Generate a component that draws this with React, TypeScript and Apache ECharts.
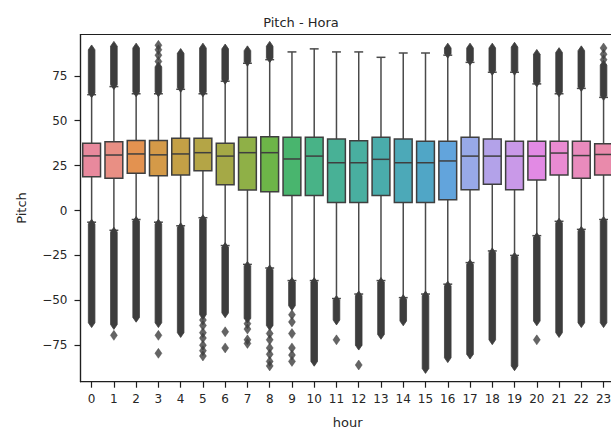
import React, { useEffect, useRef } from "react";
import * as echarts from "echarts";

const HOURS = ["0","1","2","3","4","5","6","7","8","9","10","11","12","13","14","15","16","17","18","19","20","21","22","23"];
const WHISKER_LOW = [-6.5, -11, -5, -6.5, -8.5, -4, -19.5, -30, -32, -39, -39, -49, -46.5, -39, -48.5, -46.5, -41, -29, -22.5, -25, -14, -6, -10.5, -5];
const Q1 = [18.8, 17.9, 20.7, 19.4, 19.8, 22.2, 14.4, 11.4, 10.5, 8.3, 8.3, 4.5, 4.5, 8.3, 4.5, 4.5, 6, 11.6, 14.6, 11.6, 17, 19.8, 17.9, 19.8];
const MEDIAN = [30.4, 30.9, 31.5, 31, 31.5, 32.2, 30.3, 32.2, 32.2, 28.7, 30.3, 26.6, 26.6, 28.5, 26.6, 26.6, 27.6, 30.3, 30.3, 30.3, 30.3, 32, 30.6, 31.2];
const Q3 = [37.4, 38.3, 39, 39, 40.2, 40.2, 37.4, 40.8, 41.1, 40.8, 40.8, 39.8, 38.9, 40.8, 39.8, 38.6, 38.6, 40.8, 39.8, 38.6, 38.6, 38.6, 38.6, 37.2];
const WHISKER_HIGH = [64.5, 69, 65, 65, 67.5, 65, 72, 82, 84, 88.3, 90, 88.3, 88.3, 85.3, 87.7, 87.7, 86.5, 82.5, 77, 77, 70.5, 65, 68, 63];

// dense outlier runs: [hour index, low, high]
const FLIER_RUNS = [
  [0, 65.5, 89.5], [1, 70, 91.5], [2, 66, 90.5], [3, 66, 80], [4, 68.5, 87.5], [5, 66, 90.5],
  [6, 73, 90], [7, 83, 89], [8, 85, 91.5], [16, 87.5, 90.5], [17, 83.5, 90.5], [18, 78, 90.5],
  [19, 78, 91], [20, 71.5, 87], [21, 66, 88], [22, 69, 89], [23, 64, 81],
  [0, -62.5, -7.5], [1, -63.5, -12], [2, -59.5, -6], [3, -62.5, -7.5], [4, -68, -9.5], [5, -58, -5],
  [6, -57, -20.5], [7, -60, -31], [8, -64, -33], [9, -53, -40], [10, -84, -40], [11, -61, -50],
  [12, -75, -47.5], [13, -69, -40], [14, -61.5, -49.5], [15, -88, -47.5], [16, -82, -42],
  [17, -80, -30], [18, -72, -23.5], [19, -86.5, -26], [20, -61.5, -15], [21, -68, -7],
  [22, -62.5, -11.5], [23, -62.5, -6]
];

// isolated outliers: [hour index, value]
const FLIER_POINTS = [
  [3, 83], [3, 86.5], [3, 89.5], [3, 92], [23, 84], [23, 87], [23, 90.5],
  [1, -69.5], [3, -69.5], [3, -79.5],
  [5, -61], [5, -64], [5, -68], [5, -71], [5, -75], [5, -78], [5, -81],
  [6, -67.5], [6, -76.5], [7, -63], [7, -66], [7, -72], [7, -74],
  [8, -68.5], [8, -72], [8, -76.5], [8, -80], [8, -84], [8, -86.5],
  [9, -58], [9, -62], [9, -68.5], [9, -76.5], [9, -80.5], [9, -84],
  [11, -72], [12, -86], [20, -72]
];

const Y_TICKS = [-75, -50, -25, 0, 25, 50, 75];

const BOX_COLORS = [
  "#e8899d", "#e98f84", "#e39250", "#d49a48", "#c4a046", "#b4a546",
  "#a5a946", "#8fb047", "#6db548", "#49b56e", "#48b387", "#48b196",
  "#49afa0", "#4aacab", "#4ca9b8", "#50a6c6", "#62a4dc", "#98a9e8",
  "#b3a2e9", "#c999e8", "#e28ae4", "#e98bd2", "#e98bbd", "#e98aab"
];
const EDGE = "#3f3f3f";
const WHISK = "#4a4a4a";
const FLIER = "#3d3d3d";
const TEXT = "#262626";
const FONT = "DejaVu Sans";

export default function App() {
  const ref = useRef<HTMLDivElement>(null);
  useEffect(() => {
    document.body.style.margin = "0";
    document.body.style.overflow = "hidden";
    const chart = echarts.init(ref.current!, null, { renderer: "svg" });
    const boxData = HOURS.map((_, i) => [i, WHISKER_LOW[i], Q1[i], MEDIAN[i], Q3[i], WHISKER_HIGH[i]]);
    chart.setOption({
      animation: false,
      title: {
        text: "Pitch - Hora",
        left: 296,
        top: 11,
        textAlign: "center",
        textStyle: { fontFamily: FONT, fontSize: 13, fontWeight: "normal", color: TEXT }
      },
      grid: {
        left: 80.5, top: 34.5, width: 534.2, height: 347.2,
        show: true, borderColor: "#1f1f1f", borderWidth: 1.2, containLabel: false,
        outerBoundsMode: "none"
      },
      xAxis: {
        type: "category",
        data: HOURS,
        boundaryGap: true,
        name: "hour",
        nameLocation: "middle",
        nameGap: 34,
        nameTextStyle: { fontFamily: FONT, fontSize: 13, color: TEXT },
        axisLine: { show: true, onZero: false, lineStyle: { color: "#1f1f1f", width: 1.2 } },
        axisTick: { show: true, alignWithLabel: true, length: 6, lineStyle: { color: "#1f1f1f", width: 1.2 } },
        axisLabel: { interval: 0, margin: 11, fontFamily: FONT, fontSize: 12, color: TEXT },
        splitLine: { show: false }
      },
      yAxis: {
        type: "value",
        min: -95.3,
        max: 98,
        axisLine: { show: true, onZero: false, lineStyle: { color: "#1f1f1f", width: 1.2 } },
        axisTick: { show: true, length: 6, customValues: Y_TICKS, lineStyle: { color: "#1f1f1f", width: 1.2 } },
        axisLabel: {
          margin: 13,
          customValues: Y_TICKS,
          fontFamily: FONT, fontSize: 12, color: TEXT,
          formatter: (v: number) => String(v).replace("-", "\u2212")
        },
        splitLine: { show: false }
      },
      graphic: [
        {
          type: "text",
          x: 21, y: 208,
          rotation: Math.PI / 2,
          style: { text: "Pitch", font: `13px "${FONT}"`, fill: TEXT, textAlign: "center", textVerticalAlign: "middle" }
        }
      ],
      series: [
        {
          type: "custom",
          data: boxData,
          encode: { x: 0, y: [1, 2, 3, 4, 5] },
          z: 2,
          renderItem: (params: any, api: any) => {
            const i = api.value(0);
            const lo = api.coord([i, api.value(1)]);
            const q1 = api.coord([i, api.value(2)]);
            const med = api.coord([i, api.value(3)]);
            const q3 = api.coord([i, api.value(4)]);
            const hi = api.coord([i, api.value(5)]);
            const band = api.size([1, 0])[0];
            const bw = band * 0.8;
            const cw = bw * 0.5;
            const x = lo[0];
            const ls = { stroke: EDGE, lineWidth: 1.5, fill: null };
            const ws = { stroke: WHISK, lineWidth: 1.5, fill: null };
            return {
              type: "group",
              children: [
                { type: "line", shape: { x1: x, y1: q3[1], x2: x, y2: hi[1] }, style: ws },
                { type: "line", shape: { x1: x, y1: q1[1], x2: x, y2: lo[1] }, style: ws },
                { type: "line", shape: { x1: x - cw / 2, y1: hi[1], x2: x + cw / 2, y2: hi[1] }, style: ws },
                { type: "line", shape: { x1: x - cw / 2, y1: lo[1], x2: x + cw / 2, y2: lo[1] }, style: ws },
                {
                  type: "rect",
                  shape: { x: x - bw / 2, y: q3[1], width: bw, height: q1[1] - q3[1] },
                  style: { fill: BOX_COLORS[params.dataIndex], stroke: EDGE, lineWidth: 1.5 }
                },
                { type: "line", shape: { x1: x - bw / 2, y1: med[1], x2: x + bw / 2, y2: med[1] }, style: ls }
              ]
            };
          }
        },
        {
          type: "custom",
          data: FLIER_RUNS,
          encode: { x: 0, y: [1, 2] },
          z: 3,
          renderItem: (_params: any, api: any) => {
            const i = api.value(0);
            const a = api.coord([i, api.value(1)]);
            const b = api.coord([i, api.value(2)]);
            const x = a[0];
            const yTop = Math.min(a[1], b[1]);
            const yBot = Math.max(a[1], b[1]);
            const hw = 3.3, hh = 4.8;
            return {
              type: "polygon",
              shape: {
                points: [
                  [x, yTop - hh], [x + hw, yTop], [x + hw, yBot], [x, yBot + hh], [x - hw, yBot], [x - hw, yTop]
                ]
              },
              style: { fill: FLIER, stroke: FLIER, lineWidth: 0.8 }
            };
          }
        },
        {
          type: "scatter",
          data: FLIER_POINTS,
          symbol: "diamond",
          symbolSize: [7, 10],
          z: 3,
          itemStyle: { color: FLIER, borderColor: FLIER, borderWidth: 0.5 }
        }
      ]
    });
    return () => chart.dispose();
  }, []);
  return <div ref={ref} style={{ width: 611, height: 432 }} />;
}
